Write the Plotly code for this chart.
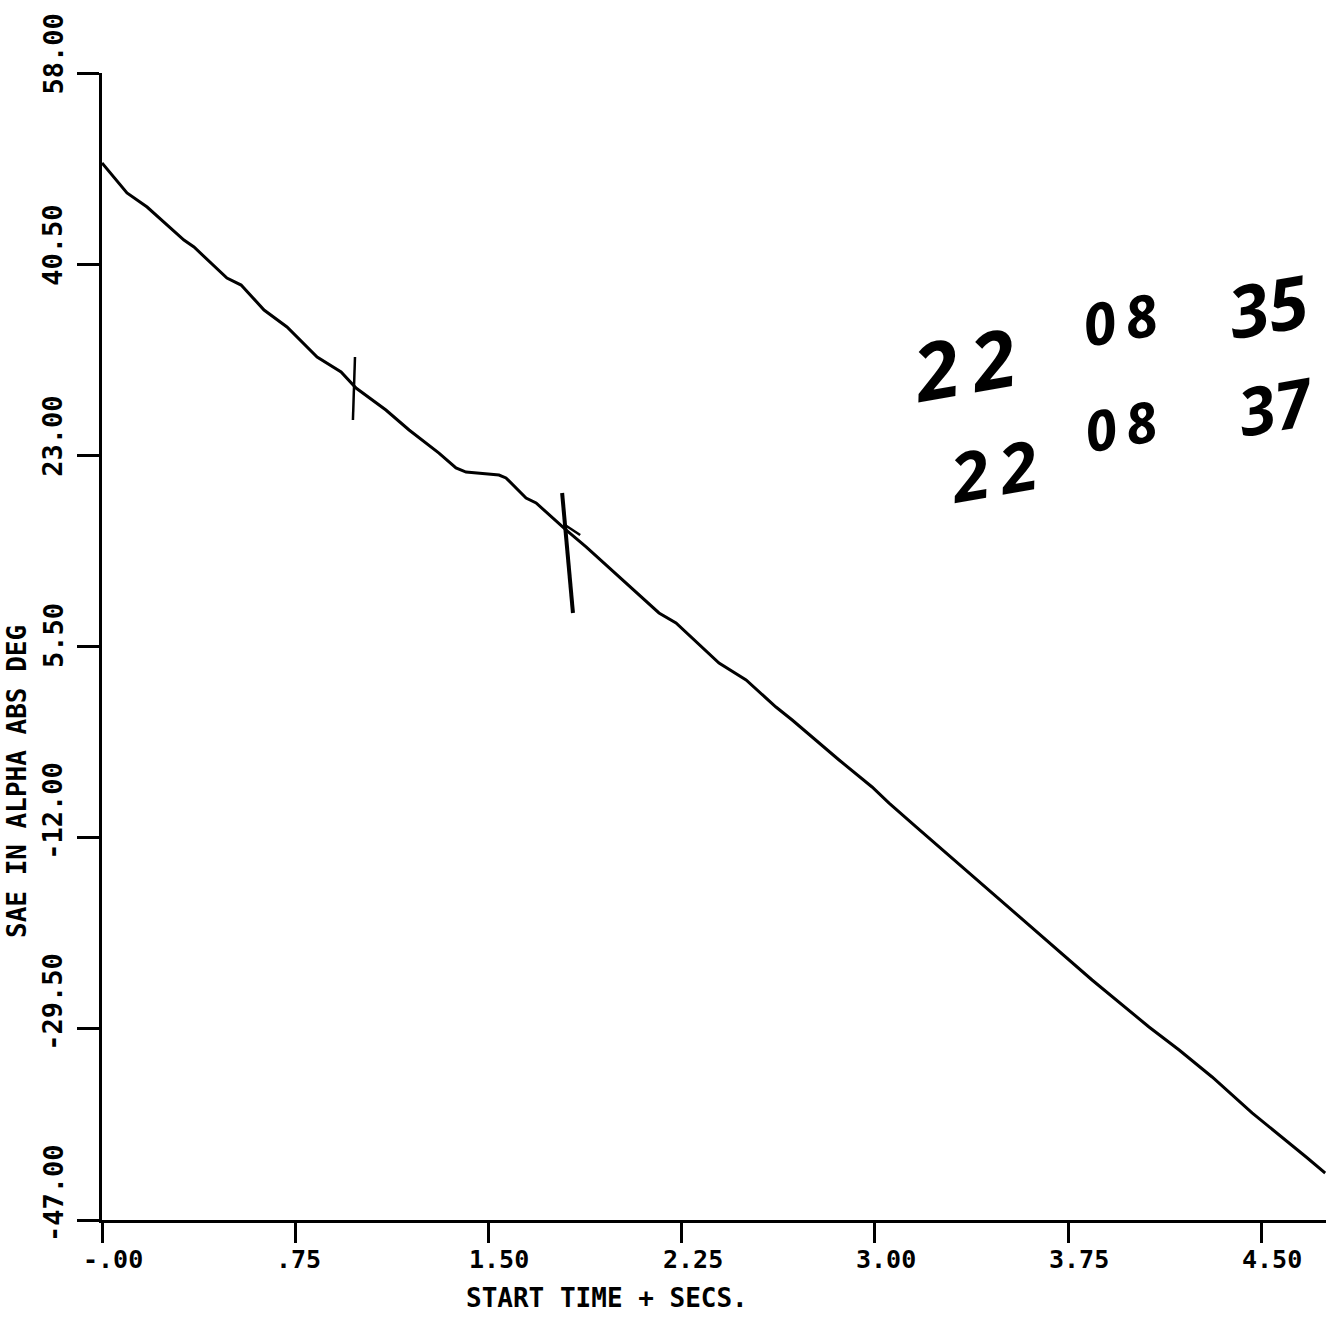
import plotly.graph_objects as go

# ---- data ----
time_s = [0.000, 0.097, 0.175, 0.318, 0.357, 0.485, 0.540, 0.629, 0.718, 0.835,
          0.928, 0.986, 1.102, 1.192, 1.308, 1.374, 1.413, 1.541, 1.568, 1.646,
          1.685, 1.801, 1.879, 2.034, 2.162, 2.228, 2.395, 2.500, 2.616, 2.679,
          2.861, 2.989, 3.055, 3.160, 3.339, 3.455, 3.843, 4.064, 4.181, 4.309,
          4.464, 4.674, 4.748]
alpha_deg = [49.76, 47.02, 45.73, 42.71, 42.07, 39.23, 38.59, 36.30, 34.75, 32.00,
             30.63, 29.16, 27.15, 25.32, 23.21, 21.84, 21.47, 21.20, 20.93, 19.09,
             18.64, 16.17, 14.61, 11.31, 8.57, 7.65, 3.99, 2.44, -0.04, -1.23,
             -4.89, -7.36, -8.83, -11.02, -14.68, -17.06, -25.03, -29.33, -31.44, -33.91,
             -37.20, -41.23, -42.70]

x_ticks = [0.0, 0.75, 1.50, 2.25, 3.00, 3.75, 4.50]
x_tick_labels = ["-.00", ".75", "1.50", "2.25", "3.00", "3.75", "4.50"]
y_ticks = [58.0, 40.5, 23.0, 5.5, -12.0, -29.5, -47.0]
y_tick_labels = ["58.00", "40.50", "23.00", "5.50", "-12.00", "-29.50", "-47.00"]

x_title = "START TIME + SECS."
y_title = "SAE IN ALPHA ABS DEG"

# handwritten marks (time, alpha) pairs
mark_strokes = [
    ([0.982, 0.974], [32.0, 26.24], 2.5),
    ([1.786, 1.828], [19.55, 8.57], 4),
    ([1.797, 1.856], [16.62, 15.71], 2.5),
]
# handwritten note fragments: text, time, alpha, size
hand_notes = [
    ("2\u20092", 3.345, 31.54, 80),
    ("0\u20098", 3.952, 35.57, 58),
    ("35", 4.527, 36.76, 72),
    ("2\u20092", 3.460, 21.66, 68),
    ("0\u20098", 3.952, 25.78, 56),
    ("37", 4.555, 27.61, 66),
]

X_MAX = 4.751
Y_MIN, Y_MAX = -47.0, 58.0
MONO = "DejaVu Sans Mono"

fig = go.Figure()
fig.add_trace(go.Scatter(x=time_s, y=alpha_deg, mode="lines",
                         line=dict(color="black", width=3), showlegend=False,
                         hoverinfo="skip"))

for xs, ys, w in mark_strokes:
    fig.add_shape(type="line", xref="x", yref="y", x0=xs[0], x1=xs[1], y0=ys[0], y1=ys[1],
                  line=dict(color="black", width=w))

annotations = []
for v, t in zip(y_ticks, y_tick_labels):
    annotations.append(dict(xref="paper", yref="y", x=0, y=v, xanchor="center", yanchor="bottom",
                            xshift=-49, yshift=-24, text=t, textangle=-90, showarrow=False,
                            font=dict(family=MONO, size=27, color="black", weight="bold")))
for v, t in zip(x_ticks, x_tick_labels):
    annotations.append(dict(xref="x", yref="paper", x=v, y=0, xanchor="left", yanchor="middle",
                            xshift=-21, yshift=-39, text=t, showarrow=False,
                            font=dict(family=MONO, size=25, color="black", weight="bold")))
annotations.append(dict(xref="paper", yref="paper", x=0.4126, y=0, xanchor="center", yanchor="middle",
                        yshift=-78, text=x_title, showarrow=False,
                        font=dict(family=MONO, size=26, color="black", weight="bold")))
annotations.append(dict(xref="paper", yref="paper", x=0, y=0.3819, xanchor="center", yanchor="middle",
                        xshift=-85, text=y_title, textangle=-90, showarrow=False,
                        font=dict(family=MONO, size=26, color="black", weight="bold")))
for txt, tx, ty, sz in hand_notes:
    annotations.append(dict(xref="x", yref="y", x=tx, y=ty, xanchor="center", yanchor="middle",
                            text=txt, textangle=-10, showarrow=False,
                            font=dict(family="Noto Sans", size=sz, color="black", weight="bold",
                                      style="italic")))

fig.update_layout(
    width=1326, height=1321,
    margin=dict(l=102, r=0, t=73, b=101, pad=0),
    paper_bgcolor="white", plot_bgcolor="white",
    showlegend=False,
    annotations=annotations,
    xaxis=dict(range=[0, X_MAX], tickvals=x_ticks, showticklabels=False, ticks="outside",
               ticklen=20, tickwidth=3, tickcolor="black", showline=True, linewidth=3,
               linecolor="black", showgrid=False, zeroline=False, fixedrange=True),
    yaxis=dict(range=[Y_MIN, Y_MAX], tickvals=y_ticks, showticklabels=False, ticks="outside",
               ticklen=22, tickwidth=3, tickcolor="black", showline=True, linewidth=3,
               linecolor="black", showgrid=False, zeroline=False, fixedrange=True),
)

fig.write_html("out.html")
